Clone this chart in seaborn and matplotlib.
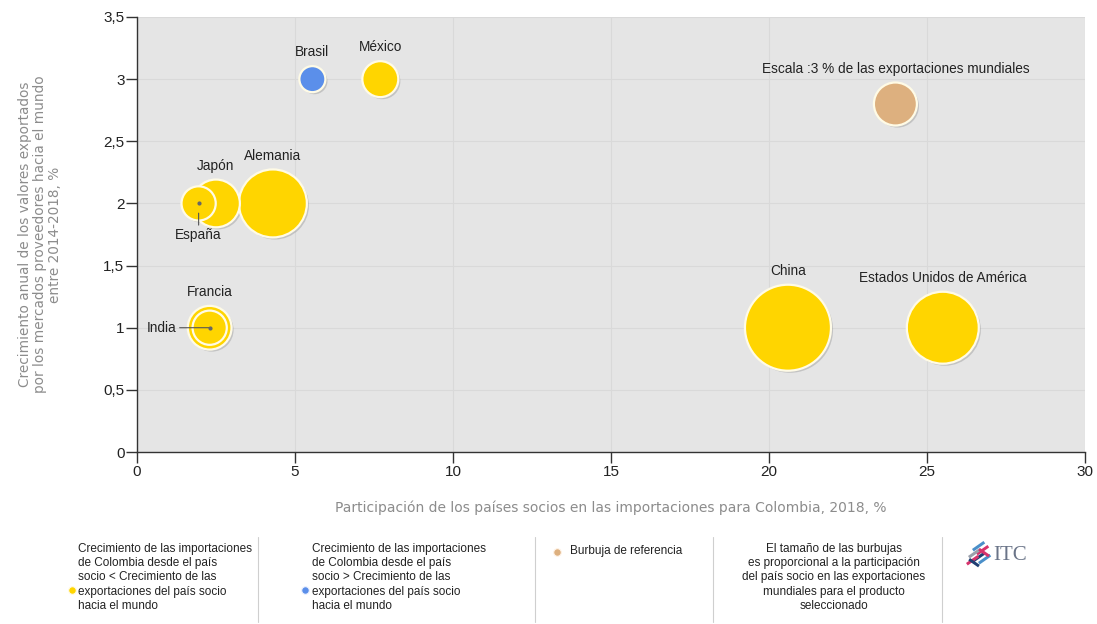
import matplotlib
matplotlib.use("Agg")
import matplotlib.pyplot as plt
import matplotlib.transforms as mtransforms
import seaborn as sns
import pandas as pd
from matplotlib.patches import Rectangle

# --- data ---
countries = ["China", "Estados Unidos de América", "Alemania", "Japón", "Francia",
             "México", "España", "India", "Brasil", "Escala :3 % de las exportaciones mundiales"]
share_imports = [20.6, 25.5, 4.3, 2.5, 2.3, 7.7, 1.95, 2.3, 5.55, 24.0]      # x, %
growth_exports = [1.0, 1.0, 2.0, 2.0, 1.0, 3.0, 2.0, 1.0, 3.0, 2.8]          # y, %
world_share = [12.0, 8.4, 7.5, 3.7, 3.1, 2.1, 1.9, 1.9, 1.1, 3.0]           # bubble size, %
group = ["menor", "menor", "menor", "menor", "menor", "menor", "menor", "menor", "mayor", "ref"]

palette = {"menor": "#FFD500", "mayor": "#5B8FEA", "ref": "#DDB07F"}

df = pd.DataFrame({"pais": countries, "x": share_imports, "y": growth_exports,
                   "size": world_share, "grupo": group})

sns.set_style("white")
plt.rcParams["font.family"] = ["Liberation Sans", "DejaVu Sans"]

fig = plt.figure(figsize=(10.97, 6.24), dpi=100)
ax = fig.add_axes([137 / 1097, 1 - 452 / 624, (1085 - 137) / 1097, (452 - 17) / 624])
ax.set_facecolor("#e5e5e5")

pts_per_pct = 319.5        # marker area (pt^2) per % of world exports
smax = max(world_share)

# soft shadow under the bubbles
shadow = mtransforms.offset_copy(ax.transData, fig=fig, x=1.5, y=-1.5, units="points")
sns.scatterplot(data=df, x="x", y="y", size="size", sizes=(0, smax * pts_per_pct),
                size_norm=(0, smax), color="#9a9a9a", alpha=0.45, linewidth=0,
                legend=False, ax=ax, transform=shadow, zorder=2)
sns.scatterplot(data=df, x="x", y="y", size="size", sizes=(0, smax * pts_per_pct),
                size_norm=(0, smax), hue="grupo", palette=palette, edgecolor="#fffbe6",
                linewidth=1.6, alpha=1, legend=False, ax=ax, zorder=3)

ax.set_xlim(0, 30)
ax.set_ylim(0, 3.5)
ax.set_xticks(range(0, 31, 5))
ax.set_yticks([0, 0.5, 1, 1.5, 2, 2.5, 3, 3.5])
ax.set_yticklabels(["0", "0,5", "1", "1,5", "2", "2,5", "3", "3,5"])
ax.grid(True, color="#d9d9d9", linewidth=0.8)
ax.set_axisbelow(True)
for side in ["top", "right"]:
    ax.spines[side].set_visible(False)
for side in ["left", "bottom"]:
    ax.spines[side].set_color("#333333")
    ax.spines[side].set_linewidth(1.0)
ax.tick_params(axis="both", which="both", direction="out", length=8, width=1,
               color="#333333", labelsize=11, labelcolor="#222222", left=True, bottom=True)
ax.tick_params(axis="y", pad=1)
ax.tick_params(axis="x", pad=1)

ax.set_xlabel("Participación de los países socios en las importaciones para Colombia, 2018, %",
              color="#8c8c8c", fontsize=10, labelpad=16, family=["DejaVu Sans"])
ax.set_ylabel("Crecimiento anual de los valores exportados\npor los mercados proveedores hacia el mundo\nentre 2014-2018, %",
              color="#8c8c8c", fontsize=9.8, labelpad=30, linespacing=1.1, family=["DejaVu Sans"])

# bubble labels
lab = dict(fontsize=9.8, color="#222222", zorder=5)
for _, r in df.iterrows():
    rad = (r["size"] * pts_per_pct) ** 0.5 / 2          # radius in points
    if r["pais"] == "España":
        ax.annotate(r["pais"], (r["x"], r["y"]), xytext=(0, -23), textcoords="offset points",
                    ha="center", va="center",
                    arrowprops=dict(arrowstyle="-", color="#555555", lw=0.8,
                                    shrinkA=0, shrinkB=7), **lab)
        ax.plot(r["x"], r["y"], "o", ms=2, color="#666666", zorder=5)
    elif r["pais"] == "India":
        ax.annotate(r["pais"], (r["x"], r["y"]), xytext=(-24, 0), textcoords="offset points",
                    ha="right", va="center",
                    arrowprops=dict(arrowstyle="-", color="#555555", lw=0.8,
                                    shrinkA=0, shrinkB=0, relpos=(1, 0.5)), **lab)
        ax.plot(r["x"], r["y"], "o", ms=2, color="#666666", zorder=5)
    else:
        ax.annotate(r["pais"], (r["x"], r["y"]), xytext=(0, rad + 10), textcoords="offset points",
                    ha="center", va="center", **lab)

# --- legend strip below the chart (pixel coordinates) ---
leg = fig.add_axes([0, 0, 1, 110 / 624])
leg.set_xlim(0, 1097)
leg.set_ylim(624, 514)
leg.axis("off")

lfont = dict(fontsize=8.5, color="#222222", family=["Liberation Sans Narrow", "Liberation Sans"],
             linespacing=1.25)
leg.scatter([72], [590], s=30, color=palette["menor"], edgecolor="#fffbe6", linewidth=0.8)
leg.text(78, 543, "Crecimiento de las importaciones\nde Colombia desde el país\nsocio < Crecimiento de las\n"
         "exportaciones del país socio\nhacia el mundo", va="top", ha="left", **lfont)
leg.scatter([305], [590], s=30, color=palette["mayor"], edgecolor="#eef3ff", linewidth=0.8)
leg.text(312, 543, "Crecimiento de las importaciones\nde Colombia desde el país\nsocio > Crecimiento de las\n"
         "exportaciones del país socio\nhacia el mundo", va="top", ha="left", **lfont)
leg.scatter([557], [552], s=30, color=palette["ref"], edgecolor="#fff4e8", linewidth=0.8)
leg.text(570, 545, "Burbuja de referencia", va="top", ha="left", **lfont)
leg.text(834, 543, "El tamaño de las burbujas\nes proporcional a la participación\n"
         "del país socio en las exportaciones\nmundiales para el producto\nseleccionado",
         va="top", ha="center", multialignment="center", **lfont)
for sx in [258, 535, 713, 942]:
    leg.plot([sx, sx], [537, 622], color="#cfcfcf", lw=0.8)

# ITC logo
bars = [((972, 549), "#4a8fc9"), ((976, 553), "#d6336c"), ((968, 556), "#9aa0ab"),
        ((972, 560), "#1f3f73"), ((978, 562), "#4a8fc9"), ((966, 563), "#d6336c")]
for (bx, by), c in bars:
    leg.add_patch(Rectangle((bx, by), 14, 3, angle=-35, color=c, lw=0))
for (bx, by), c in [((980, 548), "#d6336c"), ((970, 558), "#1f3f73")]:
    leg.add_patch(Rectangle((bx, by), 12, 3, angle=35, color=c, lw=0))
leg.text(993, 556, "ITC", fontsize=15, color="#6a7488", family=["Liberation Serif", "DejaVu Serif"],
         va="center", ha="left")

fig.savefig("out.png", dpi=100, facecolor="white")
